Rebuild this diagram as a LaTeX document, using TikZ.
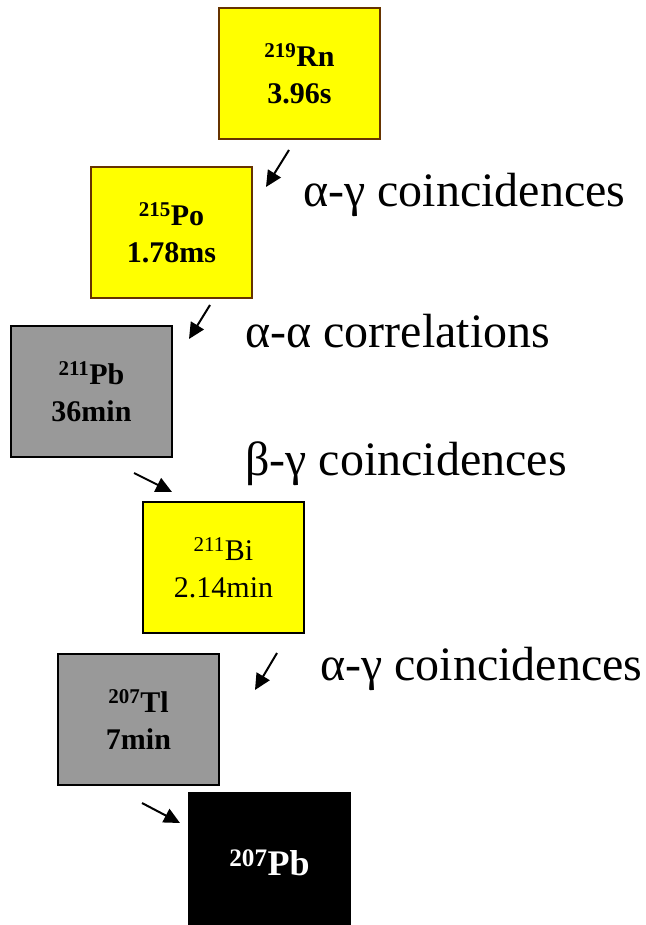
\documentclass[tikz,border=0pt]{standalone}
\usepackage{fontspec}
\setmainfont{Liberation Serif}
\newfontfamily\labfont{Liberation Serif}
\usetikzlibrary{arrows.meta}
\definecolor{ybox}{HTML}{FFFF00}
\definecolor{brownb}{HTML}{663300}
\definecolor{gbox}{HTML}{999999}
\begin{document}
\begin{tikzpicture}[x=1pt,y=-1pt,
  nuc/.style={draw, line width=2pt, minimum width=161pt, minimum height=131pt, inner sep=0pt,
    align=center, font=\fontsize{30}{37}\selectfont\bfseries, anchor=north west},
  ynuc/.style={nuc, fill=ybox, draw=brownb},
  gnuc/.style={nuc, fill=gbox, draw=black},
  lab/.style={anchor=base west, inner sep=0pt, font=\labfont\fontsize{48}{52}\selectfont},
  arr/.style={line width=2pt, -{Triangle[length=16pt,width=15pt]}}]
\useasboundingbox (0,0) rectangle (645,925);
\node[ynuc] (rn) at (218,7) {\textsuperscript{219}Rn\\3.96s};
\node[ynuc] (po) at (90,166) {\textsuperscript{215}Po\\1.78ms};
\node[gnuc] (pb1) at (10,325) {\textsuperscript{211}Pb\\36min};
\node[nuc, fill=ybox, draw=black, font=\fontsize{30}{37}\selectfont] (bi) at (142,501) {\textsuperscript{211}Bi\\2.14min};
\node[gnuc] (tl) at (57,653) {\textsuperscript{207}Tl\\7min};
\begin{scope}
\clip (0,0) rectangle (645,925);
\node[nuc, fill=black, draw=black, text=white, minimum height=140pt, font=\fontsize{36}{40}\selectfont\bfseries] (pb2) at (188,792) {\raisebox{-6pt}{\textsuperscript{207}Pb}};
\end{scope}
\coordinate (a1s) at (289,150); \coordinate (a1e) at (266,187);
\coordinate (a2s) at (210,305); \coordinate (a2e) at (189,339);
\coordinate (a3s) at (134,473); \coordinate (a3e) at (172,492);
\coordinate (a4s) at (277,653); \coordinate (a4e) at (255,690);
\coordinate (a5s) at (142,803); \coordinate (a5e) at (180,823);
\draw[arr] (a1s) -- (a1e);
\draw[arr] (a2s) -- (a2e);
\draw[arr] (a3s) -- (a3e);
\draw[arr] (a4s) -- (a4e);
\draw[arr] (a5s) -- (a5e);
\node[lab] (l1) at (303,207) {α-γ coincidences};
\node[lab] (l2) at (245,347) {α-α correlations};
\node[lab] (l3) at (245,475) {β-γ coincidences};
\node[lab] (l4) at (320,680) {α-γ coincidences};
\end{tikzpicture}
\end{document}
